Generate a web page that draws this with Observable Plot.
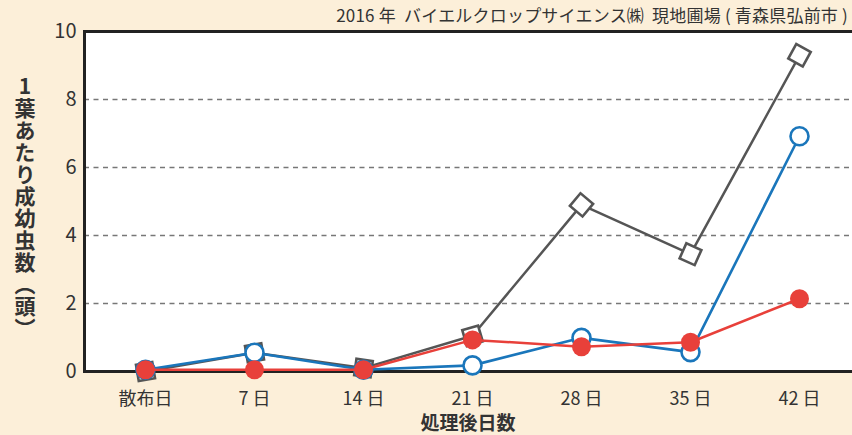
<!DOCTYPE html>
<html><head><meta charset="utf-8">
<script src="https://cdn.jsdelivr.net/npm/d3@7"></script>
<script src="https://cdn.jsdelivr.net/npm/@observablehq/plot@0.6"></script>
<style>
html,body{margin:0;padding:0;background:#fcefd9;}
#wrap{position:relative;width:852px;height:435px;overflow:hidden;font-family:"Noto Sans CJK JP",sans-serif;color:#333;}
#cap{position:absolute;right:4px;top:2px;font-size:17px;white-space:pre;color:#333;letter-spacing:0.2px;}
#ytitle{position:absolute;left:10px;top:76px;writing-mode:vertical-rl;text-orientation:upright;font-size:21px;font-weight:bold;color:#333;letter-spacing:1px;}
#xtitle{position:absolute;left:0;width:936px;top:408px;text-align:center;font-size:19px;font-weight:bold;color:#333;}
</style></head>
<body><div id="wrap">
<div id="cap">2016 年  バイエルクロップサイエンス㈱  現地圃場 ( 青森県弘前市 )</div>
<div id="ytitle">1葉あたり成幼虫数（頭）</div>
<div id="xtitle">処理後日数</div>
</div>
<script>
const days = ["散布日","7 日","14 日","21 日","28 日","35 日","42 日"];
const seriesGray = [0.0, 0.55, 0.1, 1.05, 4.9, 3.45, 9.3];
const seriesBlue = [0.05, 0.55, 0.05, 0.18, 0.99, 0.57, 6.92];
const seriesRed  = [0.05, 0.05, 0.05, 0.93, 0.73, 0.86, 2.14];
const yTicks = [0, 2, 4, 6, 8, 10];

const xOpt = {type:"point", domain: days, range:[142, 801], padding: 0};
const yOpt = {domain:[0,10], range:[371, 31]};
const sx = Plot.scale({x: xOpt}), sy = Plot.scale({y: yOpt});

function rows(vals){ return days.map((d,i)=>({day:d, v:vals[i]})); }
const gray = rows(seriesGray), blue = rows(seriesBlue), red = rows(seriesRed);
// orient each square marker perpendicular to the incoming segment
gray.forEach((d,i)=>{
  const j = i === 0 ? 1 : i - 1;
  const a = gray[j], b = d;
  const dx = sx.apply(a.day) - sx.apply(b.day), dy = sy.apply(a.v) - sy.apply(b.v);
  let ang = Math.atan2(dy, dx) * 180 / Math.PI;
  d.rot = ((ang % 90) + 90) % 90;
});

const plot = Plot.plot({
  width: 852, height: 435,
  marginLeft: 84, marginRight: -3, marginTop: 31, marginBottom: 64,
  x: xOpt, y: yOpt,
  style: {background: "#ffffff00", color: "#333", fontFamily: "'Noto Sans CJK JP', sans-serif", overflow: "visible"},
  marks: [
    Plot.frame({fill: "#fff"}),
    Plot.ruleY([2,4,6,8], {stroke: "#777", strokeDasharray: "5,4.5", strokeWidth: 1.3}),
    Plot.frame({stroke: "#222", strokeWidth: 3}),
    Plot.axisY({ticks: yTicks, tickSize: 0, tickPadding: 8, fontSize: 20, label: null}),
    Plot.axisX({tickSize: 0, tickPadding: 21, fontSize: 18, label: null}),
    Plot.line(gray, {x: "day", y: "v", stroke: "#555", strokeWidth: 2.5}),
    Plot.dot(gray, {x: "day", y: "v", symbol: "square", r: 9.3, rotate: "rot", fill: "#fff", stroke: "#555", strokeWidth: 2.6}),
    Plot.line(blue, {x: "day", y: "v", stroke: "#1a76bb", strokeWidth: 2.6}),
    Plot.dot(blue, {x: "day", y: "v", r: 9, fill: "#fff", stroke: "#1a76bb", strokeWidth: 2.6}),
    Plot.line(red, {x: "day", y: "v", stroke: "#e8403a", strokeWidth: 2.5}),
    Plot.dot(red, {x: "day", y: "v", r: 9.5, fill: "#e8403a"})
  ]
});
plot.style.position = "absolute"; plot.style.left = "0"; plot.style.top = "0";
document.getElementById("wrap").prepend(plot);
</script>
</body></html>
